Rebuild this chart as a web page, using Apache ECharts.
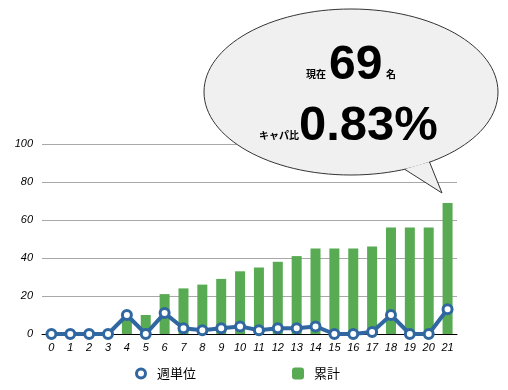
<!DOCTYPE html>
<html><head><meta charset="utf-8">
<script src="https://cdn.jsdelivr.net/npm/echarts@6/dist/echarts.min.js"></script>
<style>html,body{margin:0;padding:0;background:#fff}#c{width:508px;height:390px}</style>
</head><body><div id="c"></div>
<script>
const categories = ['0','1','2','3','4','5','6','7','8','9','10','11','12','13','14','15','16','17','18','19','20','21'];
const weekly = [0,0,0,0,10,0,11,3,2,3,4,2,3,3,4,0,0,1,10,0,0,13];
const cumulative = [0,0,0,0,10,10,21,24,26,29,33,35,38,41,45,45,45,46,56,56,56,69];
const seriesNames = ['週単位','累計'];
const calloutCount = '69';
const calloutRatio = '0.83%';

const chart = echarts.init(document.getElementById('c'), null, {renderer:'canvas'});
const FONT = 'Liberation Sans';
const CJK = 'Noto Sans CJK JP';
const BLUE = '#3067a0';
const ring = 'path://M6,0A6,6 0 1,1 6,12A6,6 0 1,1 6,0ZM6,3A3,3 0 1,0 6,9A3,3 0 1,0 6,3Z';
chart.setOption({
  animation:false,
  grid:{left:42,right:51,top:144,bottom:56},
  xAxis:{type:'category',data:categories,boundaryGap:true,
    axisLine:{lineStyle:{color:'#000',width:1}},axisTick:{show:false},
    axisLabel:{fontStyle:'italic',fontFamily:FONT,fontSize:11,color:'#000',margin:8,interval:0}},
  yAxis:{type:'value',min:0,max:100,interval:20,
    axisLine:{show:false},axisTick:{show:false},
    axisLabel:{fontStyle:'italic',fontFamily:FONT,fontSize:11,color:'#000',margin:9},
    splitLine:{lineStyle:{color:'#a8a8a8',width:1}}},
  legend:[
    {data:[{name:seriesNames[0],icon:ring,itemStyle:{color:BLUE,borderWidth:0}}],
     left:135,top:367,padding:0,itemWidth:12,itemHeight:12,textStyle:{fontFamily:CJK,fontSize:13,color:'#000',padding:[0,0,0,5]}},
    {data:[seriesNames[1]],left:292,top:367,padding:0,itemWidth:12,itemHeight:12,textStyle:{fontFamily:CJK,fontSize:13,color:'#000',padding:[0,0,0,5]}}
  ],
  series:[
    {name:seriesNames[1],type:'bar',data:cumulative,barWidth:10,itemStyle:{color:'#58ab52'},z:2},
    {name:seriesNames[0],type:'line',data:weekly,z:3,symbol:'circle',symbolSize:9,
      lineStyle:{color:BLUE,width:4},
      itemStyle:{color:'#fff',borderColor:BLUE,borderWidth:3}}
  ],
  graphic:[
    {type:'ellipse',shape:{cx:351,cy:92,rx:147,ry:83},style:{fill:'#f0f0f0',stroke:'#333',lineWidth:1},z:10},
    {type:'polygon',shape:{points:[[405,169],[442,193],[429,162]]},style:{fill:'#f0f0f0'},z:11},
    {type:'polyline',shape:{points:[[405,169.5],[442,193],[429.5,162]]},style:{fill:null,stroke:'#333',lineWidth:1},z:12},
    {type:'text',x:306,y:79,style:{text:'現在',fontFamily:CJK,fontWeight:'bold',fontSize:10,fill:'#000',verticalAlign:'bottom'},z:13},
    {type:'text',x:329,y:42,style:{text:calloutCount,fontFamily:FONT,fontWeight:'bold',fontSize:48,fill:'#000',verticalAlign:'top'},z:13},
    {type:'text',x:386,y:79,style:{text:'名',fontFamily:CJK,fontWeight:'bold',fontSize:10,fill:'#000',verticalAlign:'bottom'},z:13},
    {type:'text',x:259,y:140,style:{text:'キャパ比',fontFamily:CJK,fontWeight:'bold',fontSize:10,fill:'#000',verticalAlign:'bottom'},z:13},
    {type:'text',x:299,y:102,style:{text:calloutRatio,fontFamily:FONT,fontWeight:'bold',fontSize:49,fill:'#000',verticalAlign:'top'},z:13}
  ]
});
</script></body></html>
